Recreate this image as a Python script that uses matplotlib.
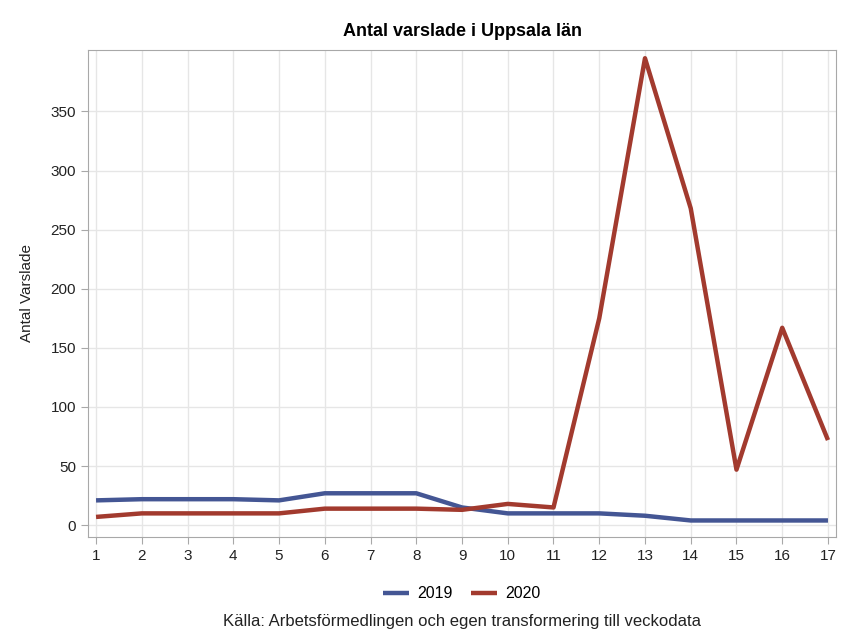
import matplotlib.pyplot as plt

BLUE = "#445694"
RED = "#a23a2e"
GRID = "#e6e6e6"
SPINE = "#a8a8a8"
INK = "#222222"

weeks = list(range(1, 18))
antal_2019 = [21, 22, 22, 22, 21, 27, 27, 27, 15, 10, 10, 10, 8, 4, 4, 4, 4]
antal_2020 = [7, 10, 10, 10, 10, 14, 14, 14, 13, 18, 15, 175, 395, 268, 47, 167, 72]
yticks = [0, 50, 100, 150, 200, 250, 300, 350]

plt.rcParams.update({
    "font.family": ["Liberation Sans", "DejaVu Sans"],
    "font.size": 11,
})

fig = plt.figure(figsize=(8.44, 6.35), dpi=100)
ax = fig.add_axes([0.1043, 0.1543, 0.8862, 0.767])

ax.plot(weeks, antal_2019, color=BLUE, linewidth=3.2, label="2019", solid_capstyle="butt")
ax.plot(weeks, antal_2020, color=RED, linewidth=3.2, label="2020", solid_capstyle="butt")

ax.set_xlim(0.825, 17.175)
ax.set_ylim(-10, 402)
ax.set_xticks(weeks)
ax.set_yticks(yticks)
ax.grid(True, color=GRID, linewidth=1.0)
ax.set_axisbelow(True)
for s in ax.spines.values():
    s.set_color(SPINE)
ax.tick_params(colors=SPINE, labelcolor=INK, length=5, labelsize=11)

ax.set_ylabel("Antal Varslade", fontsize=11, color=INK, labelpad=12)
ax.set_title("Antal varslade i Uppsala län", fontsize=13, fontweight="bold",
             color="black", pad=10)

fig.legend(loc="center", bbox_to_anchor=(0.547, 0.065), ncol=2, frameon=False,
           fontsize=11.5, handlelength=1.6, columnspacing=1.2, handletextpad=0.5)
fig.text(0.547, 0.021, "Källa: Arbetsförmedlingen och egen transformering till veckodata",
         ha="center", va="center", fontsize=12, color=INK)

fig.savefig("out.png", dpi=100)
